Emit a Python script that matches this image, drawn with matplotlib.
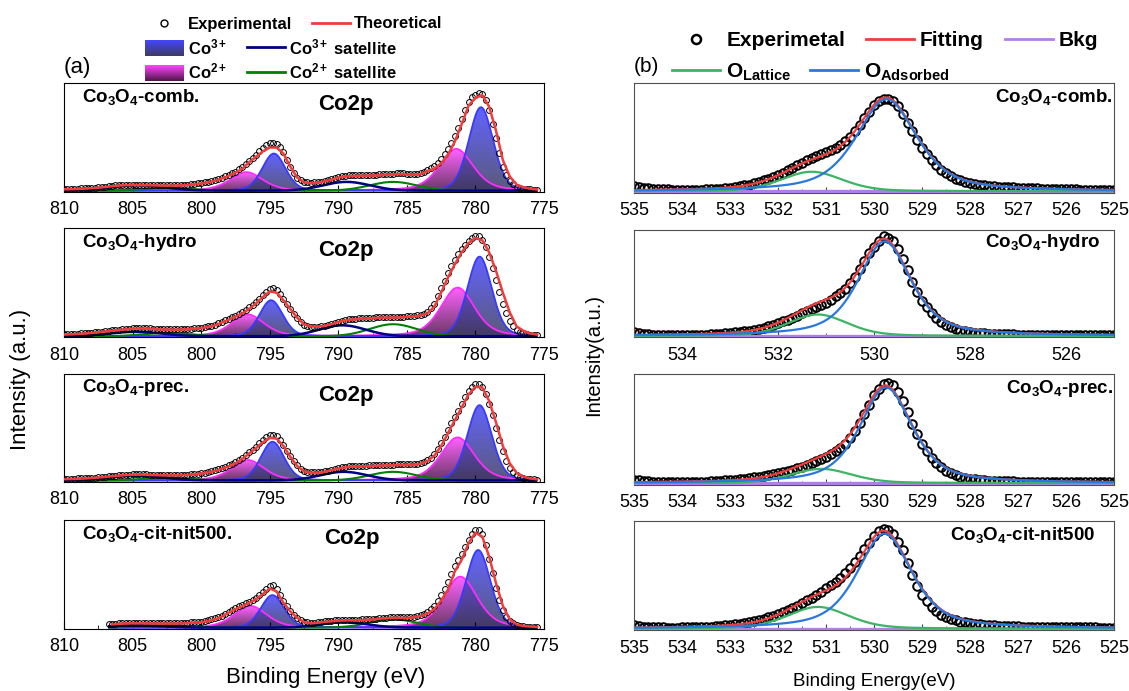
import numpy as np
import matplotlib.pyplot as plt
import matplotlib.colors as mcolors
from matplotlib.lines import Line2D
from matplotlib.patches import Patch
from matplotlib.ticker import MultipleLocator
from matplotlib.legend_handler import HandlerBase
from matplotlib.image import BboxImage
from matplotlib.transforms import Bbox, TransformedBbox

plt.rcParams['font.family'] = ['Liberation Sans', 'DejaVu Sans']
plt.rcParams['mathtext.fontset'] = 'custom'
plt.rcParams['mathtext.rm'] = 'Liberation Sans'
plt.rcParams['mathtext.it'] = 'Liberation Sans:italic'
plt.rcParams['mathtext.bf'] = 'Liberation Sans:bold'
plt.rcParams['mathtext.default'] = 'regular'

nan = np.nan

# ---------------- Co2p (left column) ----------------
# measured points every 0.25 eV (810 -> 775.5), one row per eV
co_exp_be = np.arange(810, 775.4, -0.25)
# fitted envelope every 0.5 eV (810 -> 775.5)
co_fit_be = np.arange(810, 775.4, -0.5)
co_names = ['Co$_3$O$_4$-comb.', 'Co$_3$O$_4$-hydro', 'Co$_3$O$_4$-prec.', 'Co$_3$O$_4$-cit-nit500.']
co_start = [810.0, 810.0, 810.0, 806.7]

exp_co_comb = [.016, .0165, .017, .018,  .019, .020, .022, .024,  .026, .028, .031, .034,
               .037, .040, .044, .047,  .050, .052, .054, .055,  .056, .056, .056, .055,
               .054, .053, .052, .051,  .050, .049, .049, .049,  .050, .051, .052, .054,
               .056, .059, .062, .066,  .070, .076, .082, .090,  .098, .108, .120, .132,
               .145, .160, .175, .195,  .215, .245, .275, .302,  .330, .360, .390, .415,
               .435, .440, .430, .400,  .350, .285, .220, .165,  .120, .095, .080, .075,
               .074, .075, .078, .083,  .090, .098, .108, .118,  .128, .133, .137, .139,
               .140, .141, .142, .143,  .144, .145, .145, .146,  .148, .150, .152, .154,
               .156, .157, .158, .157,  .156, .155, .154, .156,  .162, .174, .190, .206,
               .225, .255, .290, .333,  .380, .437, .500, .575,  .655, .735, .810, .855,
               .880, .892, .885, .830,  .740, .615, .480, .345,  .220, .145, .090, .058,
               .035, .024, .018, .014,  .012, .010, .008]
fit_co_comb = [.012, .013, .015, .018, .022, .027, .033, .040, .046, .050,
               .052, .052, .050, .048, .046, .045, .046, .048, .052, .057,
               .064, .075, .090, .110, .135, .165, .200, .260, .310, .360,
               .395, .395, .340, .220, .120, .075, .068, .072, .085, .100,
               .120, .130, .133, .135, .137, .138, .140, .145, .148, .150,
               .148, .145, .150, .180, .200, .250, .330, .450, .610, .780,
               .850, .877, .770, .550, .280, .130, .055, .030, .018, .010]

exp_co_hydro = [.018, .019, .020, .021,  .023, .025, .027, .030,  .033, .036, .039, .042,
                .046, .050, .053, .057,  .060, .063, .066, .069,  .071, .072, .073, .073,
                .072, .071, .069, .067,  .066, .065, .064, .063,  .063, .063, .064, .065,
                .067, .069, .072, .075,  .079, .084, .090, .097,  .106, .118, .132, .146,
                .160, .175, .190, .206,  .222, .242, .265, .289,  .315, .345, .380, .410,
                .435, .440, .420, .385,  .340, .295, .250, .205,  .165, .130, .105, .094,
                .088, .086, .088, .092,  .097, .104, .113, .123,  .134, .143, .150, .155,
                .158, .161, .163, .165,  .167, .169, .170, .172,  .173, .174, .175, .176,
                .176, .177, .178, .180,  .182, .184, .186, .191,  .198, .208, .225, .255,
                .300, .365, .440, .510,  .580, .645, .700, .752,  .800, .840, .875, .900,
                .915, .915, .880, .815,  .730, .630, .520, .410,  .300, .210, .140, .090,
                .055, .036, .025, .018,  .014, .012, .010]
fit_co_hydro = [.015, .017, .020, .024, .030, .036, .043, .050, .057, .063,
                .068, .070, .069, .066, .063, .061, .060, .061, .064, .069,
                .075, .085, .100, .125, .150, .180, .210, .250, .300, .360,
                .410, .400, .330, .250, .170, .110, .090, .088, .095, .110,
                .130, .145, .153, .158, .162, .165, .168, .170, .171, .173,
                .177, .180, .190, .210, .270, .400, .540, .660, .770, .855,
                .900, .880, .770, .600, .400, .220, .090, .050, .025, .015]

exp_co_prec = [.015, .0155, .016, .017,  .018, .019, .021, .023,  .025, .027, .030, .033,
               .036, .039, .042, .045,  .048, .051, .053, .055,  .056, .057, .057, .057,
               .056, .055, .053, .052,  .051, .050, .050, .050,  .050, .051, .052, .053,
               .055, .058, .061, .064,  .068, .073, .079, .086,  .094, .104, .115, .127,
               .140, .154, .170, .189,  .210, .234, .260, .287,  .315, .345, .375, .400,
               .420, .423, .410, .378,  .330, .278, .225, .180,  .140, .110, .090, .080,
               .075, .074, .075, .079,  .085, .092, .100, .108,  .116, .123, .128, .132,
               .134, .135, .136, .137,  .138, .139, .140, .141,  .143, .145, .146, .147,
               .148, .149, .149, .149,  .149, .150, .152, .156,  .163, .174, .190, .213,
               .245, .290, .345, .405,  .470, .530, .590, .650,  .710, .772, .830, .872,
               .895, .897, .870, .800,  .710, .605, .490, .378,  .270, .185, .120, .080,
               .050, .033, .022, .016,  .012, .010, .008]
fit_co_prec = [.012, .013, .015, .018, .022, .027, .033, .039, .045, .050,
               .053, .054, .053, .050, .048, .047, .047, .049, .052, .057,
               .064, .074, .088, .108, .130, .160, .200, .250, .300, .355,
               .395, .390, .320, .220, .135, .085, .070, .070, .080, .095,
               .110, .122, .128, .130, .132, .134, .137, .140, .142, .143,
               .143, .145, .155, .180, .230, .320, .440, .560, .680, .800,
               .870, .865, .740, .540, .320, .160, .070, .035, .018, .010]

exp_co_cit = [nan, nan, nan, nan,  nan, nan, nan, nan,  nan, nan, nan, nan,
              nan, .032, .034, .036,  .039, .041, .043, .044,  .045, .045, .045, .045,
              .044, .044, .043, .043,  .042, .042, .042, .042,  .042, .043, .044, .045,
              .047, .049, .051, .053,  .056, .061, .067, .075,  .085, .097, .110, .128,
              .147, .164, .180, .195,  .210, .225, .240, .256,  .275, .300, .330, .360,
              .385, .390, .360, .305,  .245, .195, .155, .120,  .093, .072, .055, .048,
              .045, .047, .050, .053,  .057, .061, .064, .067,  .070, .071, .072, .073,
              .073, .074, .074, .075,  .076, .078, .081, .084,  .088, .091, .093, .095,
              .096, .096, .096, .096,  .095, .098, .102, .108,  .116, .128, .145, .170,
              .200, .245, .300, .360,  .420, .495, .570, .625,  .680, .745, .810, .865,
              .900, .900, .860, .760,  .630, .500, .370, .255,  .160, .100, .060, .038,
              .025, .017, .012, .010,  .008, .006, .005]
fit_co_cit = [nan, nan, nan, nan, nan, nan, nan, .030, .035, .038,
              .040, .040, .039, .038, .037, .037, .037, .039, .042, .046,
              .050, .060, .076, .100, .137, .170, .200, .230, .260, .310,
              .360, .335, .230, .150, .090, .050, .040, .045, .052, .058,
              .064, .066, .067, .068, .070, .075, .082, .087, .090, .090,
              .088, .095, .107, .130, .170, .250, .350, .520, .625, .780,
              .875, .840, .655, .410, .200, .076, .030, .015, .010, .006]

co_exp = [exp_co_comb, exp_co_hydro, exp_co_prec, exp_co_cit]
co_fit = [fit_co_comb, fit_co_hydro, fit_co_prec, fit_co_cit]

# fitted peaks: [2p3/2, 2p1/2] per sample
co3_c = [[779.6, 794.7], [779.7, 794.9], [779.7, 794.8], [779.8, 794.8]]
co3_h = [[0.765, 0.34], [0.73, 0.33], [0.70, 0.36], [0.716, 0.30]]
co2_c = [[781.4, 796.7], [781.3, 796.6], [781.3, 796.6], [781.1, 796.4]]
co2_h = [[0.383, 0.17], [0.446, 0.20], [0.40, 0.19], [0.47, 0.20]]
sat3_c = [[789.4, 804.6], [789.7, 804.8], [789.6, 804.8], [789.6, 805.0]]
sat3_h = [[0.08, 0.05], [0.10, 0.04], [0.08, 0.045], [0.05, 0.02]]
sat2_c = [[786.0, 802.5], [786.0, 802.5], [786.0, 802.5], [786.0, 802.5]]
sat2_h = [[0.08, 0.025], [0.11, 0.03], [0.08, 0.025], [0.076, 0.02]]
co3_w, co2_w, sat3_w, sat2_w = [2.1, 2.0], [2.9, 2.8], [4.0, 4.5], [4.0, 4.0]
co3_m, co2_m = 0.2, 0.4

# ---------------- O1s (right column) ----------------
# measured points every 0.1 eV (535 -> 525), one row per eV
o_be = np.round(np.arange(535, 524.95, -0.1), 1)
o_names = ['Co$_3$O$_4$-comb.', 'Co$_3$O$_4$-hydro', 'Co$_3$O$_4$-prec.', 'Co$_3$O$_4$-cit-nit500']

exp_o_comb = [.050, .042, .035, .030, .025, .022, .020, .018, .017, .016,
              .016, .016, .016, .016, .017, .018, .020, .022, .025, .030,
              .035, .040, .045, .054, .063, .073, .085, .100, .115, .132,
              .150, .172, .195, .218, .240, .262, .285, .305, .325, .343,
              .360, .380, .400, .428, .460, .500, .550, .605, .670, .730,
              .790, .825, .850, .848, .830, .780, .710, .630, .550, .472,
              .400, .342, .290, .242, .200, .168, .140, .118, .100, .086,
              .075, .067, .060, .055, .050, .046, .043, .040, .038, .036,
              .034, .032, .030, .028, .027, .025, .024, .023, .022, .021,
              .020, .019, .018, .017, .016, .0155, .015, .0145, .014, .0135,
              .013]
exp_o_hydro = [.040, .030, .022, .017, .014, .012, .011, .010, .010, .010,
               .010, .010, .011, .012, .013, .014, .016, .018, .021, .024,
               .028, .033, .038, .044, .050, .058, .067, .078, .090, .105,
               .120, .135, .150, .170, .190, .210, .230, .250, .270, .290,
               .310, .338, .370, .403, .440, .490, .550, .625, .700, .770,
               .830, .885, .925, .915, .880, .810, .720, .610, .500, .410,
               .330, .265, .210, .165, .130, .102, .080, .063, .050, .042,
               .035, .031, .027, .024, .022, .020, .018, .017, .016, .015,
               .014, .0135, .013, .0125, .012, .0115, .011, .0105, .010, .010,
               .010, .010, .010, .0095, .009, .009, .009, .009, .009, .009,
               .009]
exp_o_prec = [.030, .025, .020, .017, .014, .013, .012, .011, .011, .011,
              .011, .011, .012, .013, .014, .015, .017, .019, .022, .025,
              .028, .032, .036, .041, .046, .052, .058, .065, .073, .081,
              .090, .100, .110, .122, .135, .150, .165, .182, .200, .220,
              .240, .263, .290, .322, .360, .410, .470, .545, .630, .715,
              .800, .860, .905, .910, .890, .830, .750, .650, .540, .445,
              .360, .290, .230, .183, .145, .115, .090, .072, .058, .048,
              .040, .035, .030, .027, .024, .022, .020, .018, .017, .016,
              .015, .0145, .014, .0135, .013, .012, .012, .0115, .011, .011,
              .011, .0105, .010, .010, .010, .010, .010, .010, .010, .010,
              .010]
exp_o_cit = [.035, .027, .020, .016, .013, .012, .011, .0105, .010, .0105,
             .011, .0115, .012, .013, .015, .017, .020, .023, .026, .030,
             .035, .041, .047, .054, .062, .071, .080, .092, .105, .120,
             .135, .152, .170, .190, .210, .235, .260, .285, .310, .340,
             .370, .400, .430, .468, .510, .558, .610, .668, .730, .790,
             .850, .895, .920, .905, .870, .800, .720, .605, .490, .395,
             .310, .252, .200, .162, .130, .108, .090, .076, .065, .057,
             .050, .045, .040, .036, .033, .030, .028, .026, .024, .022,
             .021, .020, .019, .018, .017, .016, .015, .0145, .014, .0135,
             .013, .0125, .012, .0115, .011, .011, .011, .0105, .010, .010,
             .010]
o_exp = [exp_o_comb, exp_o_hydro, exp_o_prec, exp_o_cit]

# fitted peaks (center, height, fwhm, lorentz fraction)
ads_c = [529.74, 529.78, 529.75, 529.78]
ads_h = [0.845, 0.88, 0.87, 0.874]
ads_w = [1.5, 1.3, 1.3, 1.35]
lat_c = [531.3, 531.17, 531.1, 531.17]
lat_h = [0.18, 0.20, 0.13, 0.20]
lat_w = [1.5, 1.45, 1.5, 1.5]
ads_m, lat_m = 0.6, 0.3
bkg_level = [0.0, 0.0, 0.0, 0.0]

RED = '#f03c3c'
NAVY = '#000080'
GREEN = '#008000'
CO3_TOP, CO3_BOT, CO3_EDGE = '#4646ff', '#3c3c62', '#3a3aff'
CO2_TOP, CO2_BOT, CO2_EDGE = '#ff46ff', '#4e1448', '#ff2cff'
O_LAT, O_ADS, O_BKG = '#3cb464', '#2a78dc', '#b07fe6'


def pv(x, c, h, w, m):
    d = (x - c) / w
    return h * ((1 - m) * np.exp(-4 * np.log(2) * d ** 2) + m / (1 + 4 * d ** 2))


def grad_img(top, bot, alpha=0.85, n=128):
    c0 = np.array(mcolors.to_rgb(bot))
    c1 = np.array(mcolors.to_rgb(top))
    t = np.linspace(0, 1, n)[:, None]
    rgb = c0 + (c1 - c0) * t
    rgba = np.concatenate([rgb, np.full((n, 1), alpha)], axis=1)
    return rgba[:, None, :]


def grad_fill(ax, x, y, top, bot, edge):
    poly = ax.fill_between(x, 0, y, facecolor='none', edgecolor='none')
    im = ax.imshow(grad_img(top, bot), extent=[x.min(), x.max(), 0, y.max()],
                   origin='lower', aspect='auto', interpolation='bilinear', zorder=1)
    im.set_clip_path(poly.get_paths()[0], ax.transData)
    ax.plot(x, y, color=edge, lw=1.3, zorder=2)


class GradHandler(HandlerBase):
    def __init__(self, top, bot):
        super().__init__()
        self.top, self.bot = top, bot

    def create_artists(self, legend, orig_handle, xdescent, ydescent, width,
                       height, fontsize, trans):
        bb = TransformedBbox(Bbox.from_bounds(-xdescent, -ydescent, width, height), trans)
        img = BboxImage(bb, interpolation='bilinear', origin='lower')
        img.set_data(grad_img(self.top, self.bot, alpha=1.0))
        return [img]


fig = plt.figure(figsize=(11.29, 6.91), dpi=100)
FW, FH = 1129.0, 691.0
left_rows = [(82.7, 191.7), (228.3, 337.3), (374.0, 481.5), (520.3, 628.7)]
right_rows = [(83.3, 192.7), (229.5, 337.3), (374.3, 484.5), (521.0, 630.0)]
co2p_pos = [(0.588, 0.80), (0.588, 0.80), (0.588, 0.80), (0.60, 0.83)]
o_lab_x = [0.997, 0.972, 0.998, 0.962]

for i in range(4):
    t, b = left_rows[i]
    ax = fig.add_axes([64 / FW, 1 - b / FH, 480 / FW, (b - t) / FH])
    xs = np.linspace(co_start[i], 775.6, 700)
    for j in range(2):
        grad_fill(ax, xs, pv(xs, co2_c[i][j], co2_h[i][j], co2_w[j], co2_m),
                  CO2_TOP, CO2_BOT, CO2_EDGE)
    for j in range(2):
        grad_fill(ax, xs, pv(xs, co3_c[i][j], co3_h[i][j], co3_w[j], co3_m),
                  CO3_TOP, CO3_BOT, CO3_EDGE)
    s3 = sum(pv(xs, sat3_c[i][j], sat3_h[i][j], sat3_w[j], 0) for j in range(2))
    s2 = sum(pv(xs, sat2_c[i][j], sat2_h[i][j], sat2_w[j], 0) for j in range(2))
    ax.plot(xs, s2, color=GREEN, lw=1.5, zorder=3)
    ax.plot(xs, s3, color=NAVY, lw=1.8, zorder=3)
    ax.plot(co_exp_be, co_exp[i], 'o', mfc='none', mec='k', ms=4.2, mew=0.7, zorder=4)
    ax.plot(co_fit_be, co_fit[i], color=RED, lw=1.8, zorder=5)
    ax.set_xlim(810, 775)
    ax.set_ylim(-0.01, 0.99)
    ax.xaxis.set_major_locator(MultipleLocator(5))
    ax.xaxis.set_minor_locator(MultipleLocator(2.5))
    ax.tick_params(axis='x', which='both', direction='in', labelsize=13, pad=7)
    ax.tick_params(axis='x', which='major', length=5)
    ax.tick_params(axis='x', which='minor', length=3)
    ax.set_yticks([])
    ax.text(0.038, 0.87, co_names[i], transform=ax.transAxes, fontsize=13.5,
            fontweight='bold', va='center', ha='left')
    ax.text(co2p_pos[i][0], co2p_pos[i][1], 'Co2p', transform=ax.transAxes,
            fontsize=16, fontweight='bold', va='center', ha='center')

for i in range(4):
    t, b = right_rows[i]
    ax = fig.add_axes([634 / FW, 1 - b / FH, 480 / FW, (b - t) / FH])
    xs = np.linspace(535, 525, 600)
    lat = pv(xs, lat_c[i], lat_h[i], lat_w[i], lat_m)
    ads = pv(xs, ads_c[i], ads_h[i], ads_w[i], ads_m)
    ax.plot(o_be, o_exp[i], 'o', mfc='none', mec='k', ms=6.2, mew=1.4, zorder=2)
    ax.plot(xs, lat + ads + bkg_level[i], color=RED, lw=1.6, zorder=3)
    ax.plot(xs, np.full_like(xs, bkg_level[i]), color=O_BKG, lw=2.4, zorder=3)
    ax.plot(xs, lat, color=O_LAT, lw=1.6, zorder=4)
    ax.plot(xs, ads, color=O_ADS, lw=1.6, zorder=5)
    ax.set_xlim(535, 525)
    ax.set_ylim(-0.012, 0.99)
    if i == 1:
        ax.xaxis.set_major_locator(MultipleLocator(2))
        ax.xaxis.set_minor_locator(MultipleLocator(1))
    else:
        ax.xaxis.set_major_locator(MultipleLocator(1))
        ax.xaxis.set_minor_locator(MultipleLocator(0.5))
    ax.tick_params(axis='x', which='both', direction='in', labelsize=13, pad=7,
                   color='#444444')
    ax.tick_params(axis='x', which='major', length=4)
    ax.tick_params(axis='x', which='minor', length=3)
    ax.set_yticks([])
    for sp in ax.spines.values():
        sp.set_color('#505050')
    ax.text(o_lab_x[i], 0.875, o_names[i], transform=ax.transAxes, fontsize=13.5,
            fontweight='bold', va='center', ha='right')

# legends
h_exp_l = Line2D([], [], ls='none', marker='o', mfc='none', mec='k', ms=5, mew=1.0)
h_fit = Line2D([], [], color=RED, lw=2)
h_co3 = Patch()
h_co2 = Patch()
h_s3 = Line2D([], [], color=NAVY, lw=2)
h_s2 = Line2D([], [], color=GREEN, lw=2)
fig.legend(handles=[h_exp_l, h_fit], labels=['Experimental', 'Theoretical'],
           loc='center left', bbox_to_anchor=(145 / FW, 1 - 24 / FH), ncol=2,
           frameon=False, prop={'weight': 'bold', 'size': 12}, handlelength=2.3,
           handletextpad=0.25, columnspacing=1.2, borderpad=0, borderaxespad=0)
fig.legend(handles=[h_co3, h_co2, h_s3, h_s2],
           labels=['Co$^{3+}$', 'Co$^{2+}$', 'Co$^{3+}$ satellite', 'Co$^{2+}$ satellite'],
           handler_map={h_co3: GradHandler(CO3_TOP, CO3_BOT),
                        h_co2: GradHandler(CO2_TOP, CO2_BOT)},
           loc='center left', bbox_to_anchor=(145 / FW, 1 - 59.5 / FH), ncol=2,
           frameon=False, prop={'weight': 'bold', 'size': 12}, handlelength=2.3,
           handleheight=1.1, labelspacing=0.3, handletextpad=0.25,
           columnspacing=1.2, borderpad=0, borderaxespad=0)

h_exp_r = Line2D([], [], ls='none', marker='o', mfc='none', mec='k', ms=6.5, mew=1.8)
h_fit_r = Line2D([], [], color=RED, lw=2)
h_bkg = Line2D([], [], color=O_BKG, lw=2)
h_lat = Line2D([], [], color=O_LAT, lw=2)
h_ads = Line2D([], [], color=O_ADS, lw=2)
fig.legend(handles=[h_exp_r, h_fit_r, h_bkg], labels=['Experimetal', 'Fitting', 'Bkg'],
           loc='center left', bbox_to_anchor=(672 / FW, 1 - 40.6 / FH), ncol=3,
           frameon=False, prop={'weight': 'bold', 'size': 15}, handlelength=2.3,
           handletextpad=0.3, columnspacing=1.0, borderpad=0, borderaxespad=0)
fig.legend(handles=[h_lat, h_ads], labels=['O$_{Lattice}$', 'O$_{Adsorbed}$'],
           loc='center left', bbox_to_anchor=(672 / FW, 1 - 72 / FH), ncol=2,
           frameon=False, prop={'weight': 'bold', 'size': 15}, handlelength=2.3,
           handletextpad=0.3, columnspacing=0.9, borderpad=0, borderaxespad=0)

fig.text(64 / FW, 1 - 67 / FH, '(a)', fontsize=16, va='center', ha='left')
fig.text(634 / FW, 1 - 66 / FH, '(b)', fontsize=15, va='center', ha='left')
fig.text(21 / FW, 1 - 379 / FH, 'Intensity (a.u.)', rotation=90, fontsize=16,
         va='center', ha='center')
fig.text(594 / FW, 1 - 355 / FH, 'Intensity(a.u.)', rotation=90, fontsize=14.5,
         va='center', ha='center')
fig.text(326 / FW, 1 - 677 / FH, 'Binding Energy (eV)', fontsize=16,
         va='center', ha='center')
fig.text(874 / FW, 1 - 682 / FH, 'Binding Energy(eV)', fontsize=13.5,
         va='center', ha='center')

fig.savefig('out.png', dpi=100)
